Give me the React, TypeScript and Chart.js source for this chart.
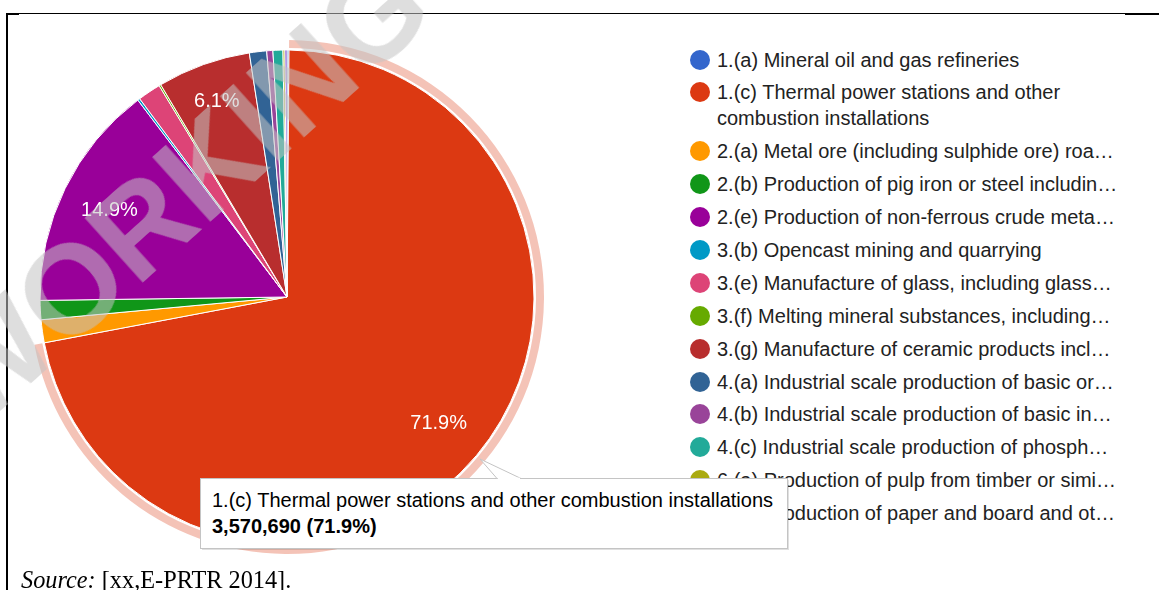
import React, { useEffect, useRef } from "react";
import { Chart, registerables } from "chart.js";

Chart.register(...registerables);

// ---- Data ----
const categories: string[] = [
  "1.(a) Mineral oil and gas refineries",
  "1.(c) Thermal power stations and other combustion installations",
  "2.(a) Metal ore (including sulphide ore) roa…",
  "2.(b) Production of pig iron or steel includin…",
  "2.(e) Production of non-ferrous crude meta…",
  "3.(b) Opencast mining and quarrying",
  "3.(e) Manufacture of glass, including glass…",
  "3.(f) Melting mineral substances, including…",
  "3.(g) Manufacture of ceramic products incl…",
  "4.(a) Industrial scale production of basic or…",
  "4.(b) Industrial scale production of basic in…",
  "4.(c) Industrial scale production of phosph…",
  "6.(a) Production of pulp from timber or simi…",
  "6.(b) Production of paper and board and ot…",
];

const values: number[] = [
  6460, 3570690, 74500, 62100, 740000, 7450, 75000, 5960, 302900, 56000,
  19900, 32300, 6460, 6460,
];

const colors: string[] = [
  "#3366cc", "#dc3912", "#ff9900", "#109618", "#990099", "#0099c6",
  "#dd4477", "#66aa00", "#b82e2e", "#316395", "#994499", "#22aa99",
  "#aaaa11", "#6633cc",
];

const hoveredIndex = 1;
const sourceLabel = "Source:";
const sourceRef = " [xx,E-PRTR 2014].";
const watermarkText = "WORKING";

const SANS = "'Liberation Sans', Arial, Helvetica, sans-serif";
const SERIF = "'Liberation Serif', 'Times New Roman', serif";

const total = values.reduce((a, b) => a + b, 0);
const pctText = (v: number) => ((v / total) * 100).toFixed(1) + "%";

const haloPlugin = {
  id: "halo",
  beforeDatasetsDraw(chart: any) {
    const arc: any = chart.getDatasetMeta(0).data[hoveredIndex];
    if (!arc) return;
    const { x, y, startAngle, endAngle, outerRadius } = arc.getProps(
      ["x", "y", "startAngle", "endAngle", "outerRadius"],
      true
    );
    const ctx = chart.ctx;
    ctx.save();
    ctx.beginPath();
    ctx.arc(x, y, outerRadius + 10, startAngle, endAngle);
    ctx.arc(x, y, outerRadius + 2, endAngle, startAngle, true);
    ctx.closePath();
    ctx.fillStyle = "rgba(220,57,18,0.3)";
    ctx.fill();
    ctx.restore();
  },
};

const sliceLabelPlugin = {
  id: "sliceLabels",
  afterDatasetsDraw(chart: any) {
    const ctx = chart.ctx;
    const meta = chart.getDatasetMeta(0);
    ctx.save();
    ctx.font = `20px ${SANS}`;
    ctx.fillStyle = "#ffffff";
    ctx.textAlign = "center";
    ctx.textBaseline = "middle";
    meta.data.forEach((arc: any, i: number) => {
      const share = values[i] / total;
      if (share < 0.05) return;
      const { x, y, startAngle, endAngle, outerRadius } = arc.getProps(
        ["x", "y", "startAngle", "endAngle", "outerRadius"],
        true
      );
      const mid = (startAngle + endAngle) / 2;
      const r = outerRadius * (share < 0.1 ? 0.84 : 0.8);
      ctx.fillText(pctText(values[i]), x + Math.cos(mid) * r, y + Math.sin(mid) * r);
    });
    ctx.restore();
  },
};

export default function App() {
  const canvasRef = useRef<HTMLCanvasElement | null>(null);

  useEffect(() => {
    if (!canvasRef.current) return;
    const chart = new Chart(canvasRef.current, {
      type: "pie",
      data: {
        labels: categories,
        datasets: [
          {
            data: values,
            backgroundColor: colors,
            borderColor: "#ffffff",
            borderWidth: 1,
            hoverOffset: 0,
          },
        ],
      },
      options: {
        responsive: false,
        animation: false,
        radius: 247,
        events: [],
        layout: { padding: 0 },
        plugins: {
          legend: { display: false },
          tooltip: { enabled: false },
        },
      } as any,
      plugins: [haloPlugin, sliceLabelPlugin],
    });
    return () => chart.destroy();
  }, []);

  const legendTop = 46.5;

  return (
    <div
      style={{
        position: "absolute",
        left: 0,
        top: 0,
        width: 1159,
        height: 590,
        overflow: "hidden",
        background: "#ffffff",
      }}
    >
      {/* document frame lines */}
      <div style={{ position: "absolute", left: 7, top: 13, width: 1152, height: 1, background: "#000" }} />
      <div style={{ position: "absolute", left: 7, top: 13, width: 12, height: 2, background: "#000" }} />
      <div style={{ position: "absolute", left: 1125, top: 13, width: 34, height: 2, background: "#000" }} />
      <div style={{ position: "absolute", left: 6, top: 13, width: 2, height: 577, background: "#000" }} />

      <canvas
        ref={canvasRef}
        width={534}
        height={534}
        style={{ position: "absolute", left: 20, top: 30, width: 534, height: 534 }}
      />

      {/* legend */}
      <div
        style={{
          position: "absolute",
          left: 689.5,
          top: legendTop,
          display: "flex",
          flexDirection: "column",
          gap: 6.9,
          fontFamily: SANS,
          fontSize: 20,
          lineHeight: "26px",
          color: "#222222",
        }}
      >
        {categories.map((c, i) => (
          <div key={i} style={{ display: "flex", alignItems: "flex-start" }}>
            <div
              style={{
                width: 20,
                height: 20,
                marginTop: 3,
                borderRadius: "50%",
                background: colors[i],
                flex: "0 0 auto",
              }}
            />
            <div
              style={{
                marginLeft: 7.5,
                maxWidth: 400,
                whiteSpace: i === 1 ? "normal" : "nowrap",
              }}
            >
              {c}
            </div>
          </div>
        ))}
      </div>

      {/* tooltip */}
      <svg
        width={1159}
        height={590}
        style={{ position: "absolute", left: 0, top: 0, pointerEvents: "none" }}
      >
        <rect x={202} y={480} width={587} height={70} fill="rgba(0,0,0,0.12)" />
        <rect x={200.5} y={478.5} width={587} height={70} fill="#ffffff" stroke="#c4c4c4" strokeWidth={1} />
        <polygon points="497,478.5 480,459 521,478.5" fill="#ffffff" stroke="#c4c4c4" strokeWidth={1} />
        <line x1={497.8} y1={478.5} x2={520} y2={478.5} stroke="#ffffff" strokeWidth={1.6} />
      </svg>
      <div
        style={{
          position: "absolute",
          left: 212,
          top: 487,
          fontFamily: SANS,
          fontSize: 20,
          lineHeight: "26px",
          color: "#000000",
          whiteSpace: "nowrap",
        }}
      >
        <div>{categories[hoveredIndex]}</div>
        <div style={{ fontWeight: "bold" }}>
          {values[hoveredIndex].toLocaleString("en-US")} ({pctText(values[hoveredIndex])})
        </div>
      </div>

      {/* source */}
      <div
        style={{
          position: "absolute",
          left: 21,
          top: 566,
          fontFamily: SERIF,
          fontSize: 24.3,
          lineHeight: "28px",
          color: "#000",
          whiteSpace: "nowrap",
        }}
      >
        <i>{sourceLabel}</i>
        {sourceRef}
      </div>

      {/* watermark */}
      <div
        style={{
          position: "absolute",
          left: 178,
          top: 193,
          transform: "translate(-50%, -50%) rotate(-42deg)",
          fontFamily: SANS,
          fontWeight: "bold",
          fontSize: 126,
          lineHeight: "126px",
          color: "rgba(195,195,195,0.55)",
          whiteSpace: "nowrap",
          pointerEvents: "none",
        }}
      >
        {watermarkText}
      </div>
    </div>
  );
}
